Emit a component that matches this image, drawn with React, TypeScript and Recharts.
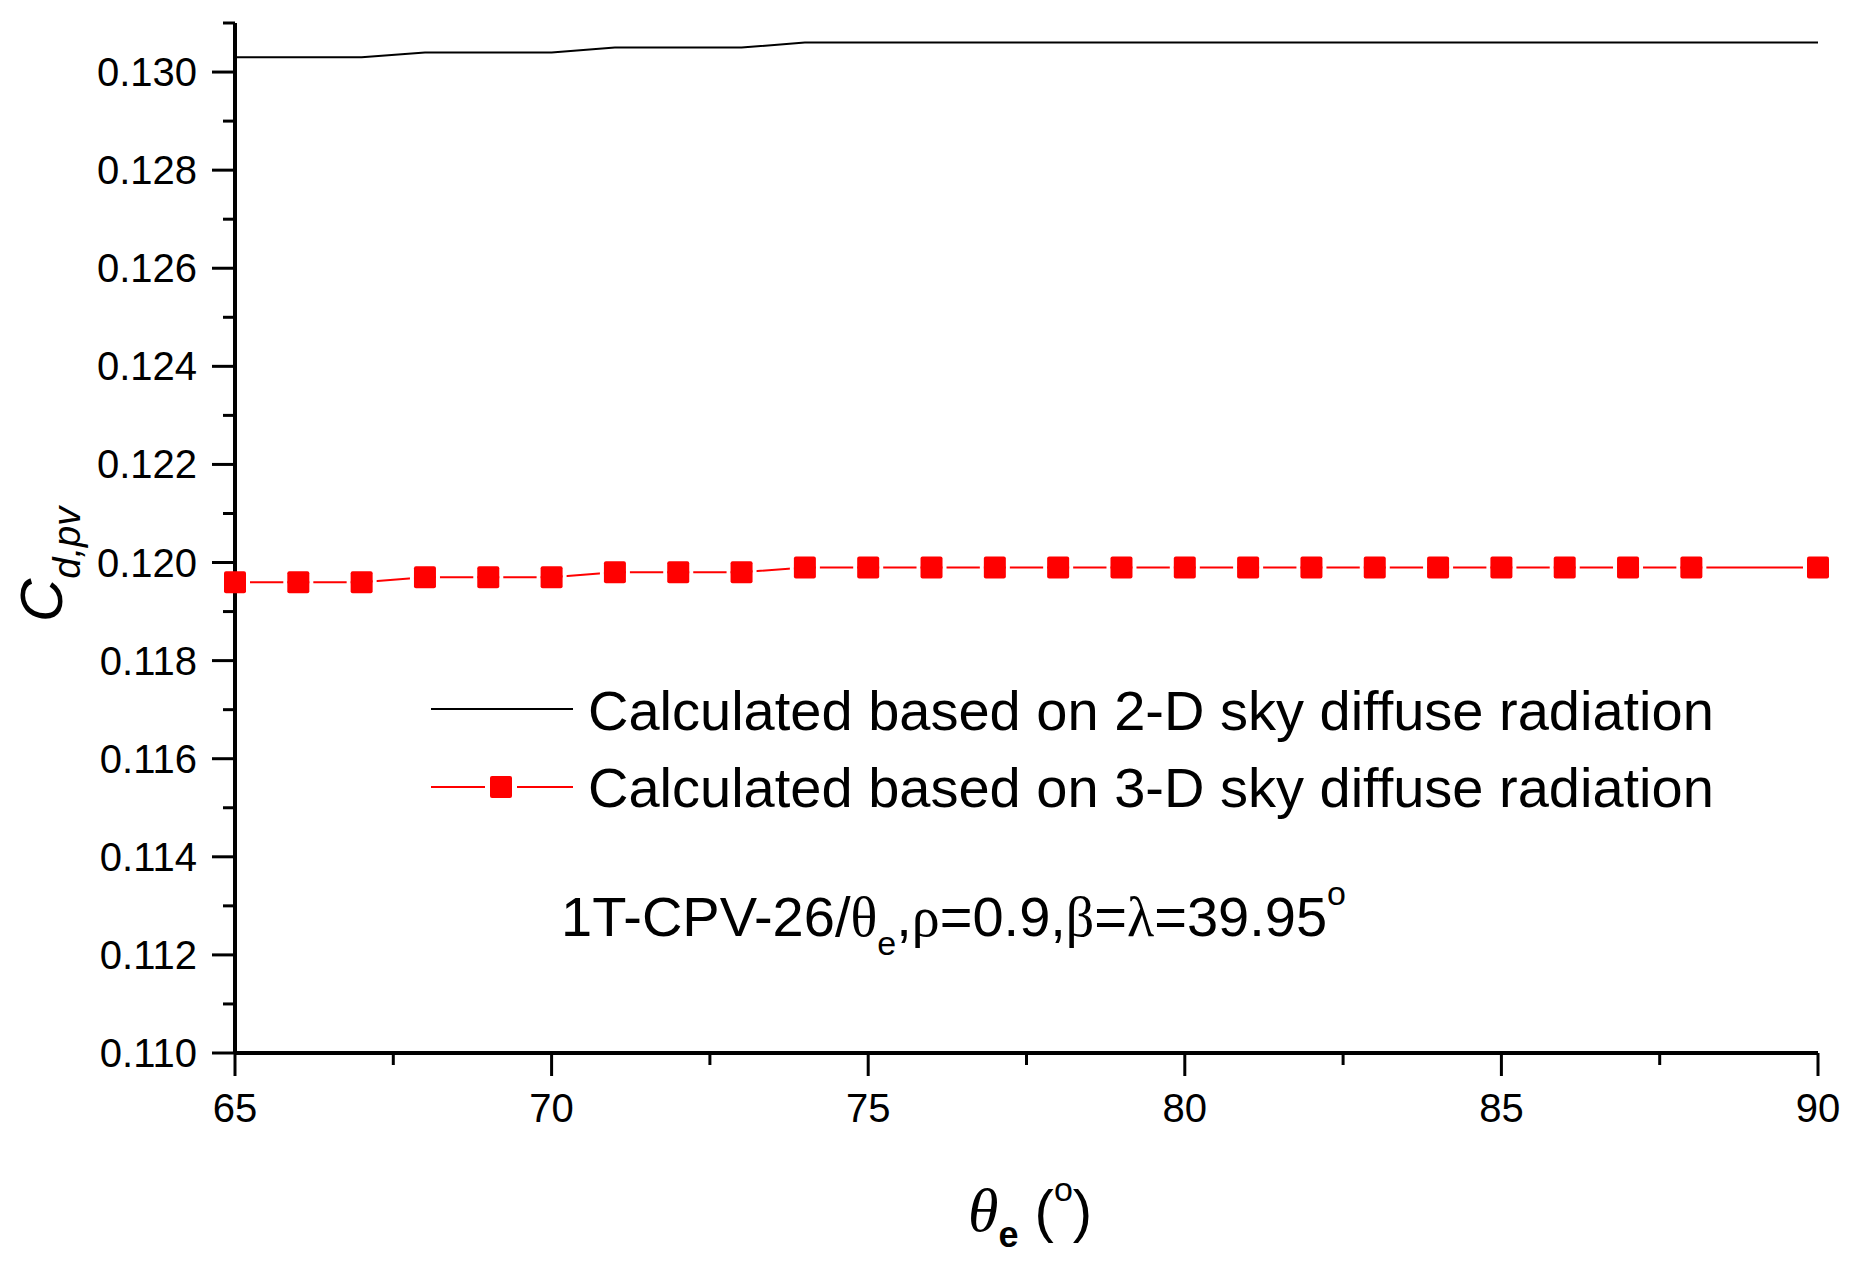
import React from 'react';
import { LineChart, Line, XAxis, YAxis, Legend } from 'recharts';

const thetaE = [65, 66, 67, 68, 69, 70, 71, 72, 73, 74, 75, 76, 77, 78, 79, 80, 81, 82, 83, 84, 85, 86, 87, 88, 89, 90];
const cd2D = [0.1303, 0.1303, 0.1303, 0.1304, 0.1304, 0.1304, 0.1305, 0.1305, 0.1305, 0.1306, 0.1306, 0.1306, 0.1306, 0.1306, 0.1306, 0.1306, 0.1306, 0.1306, 0.1306, 0.1306, 0.1306, 0.1306, 0.1306, 0.1306, 0.1306, 0.1306];
const cd3D = [0.1196, 0.1196, 0.1196, 0.1197, 0.1197, 0.1197, 0.1198, 0.1198, 0.1198, 0.1199, 0.1199, 0.1199, 0.1199, 0.1199, 0.1199, 0.1199, 0.1199, 0.1199, 0.1199, 0.1199, 0.1199, 0.1199, 0.1199, 0.1199, null, 0.1199];
const xTicks = [65, 67.5, 70, 72.5, 75, 77.5, 80, 82.5, 85, 87.5, 90];
const yTicks = [0.110, 0.111, 0.112, 0.113, 0.114, 0.115, 0.116, 0.117, 0.118, 0.119, 0.120, 0.121, 0.122, 0.123, 0.124, 0.125, 0.126, 0.127, 0.128, 0.129, 0.130, 0.131];
const seriesNames = ['Calculated based on 2-D sky diffuse radiation', 'Calculated based on 3-D sky diffuse radiation'];

const data = thetaE.map((t, i) => ({ t, a: cd2D[i], b: cd3D[i] }));

const SANS = '"Liberation Sans", Arial, Helvetica, sans-serif';
const SERIF = '"Liberation Serif", "Times New Roman", serif';
const RED = '#ff0000';
const MK = 22;
const GAP = 4;

const XTick = (props: any) => {
  const { x, y, payload } = props;
  const v = payload.value;
  const major = Math.abs(v % 5) < 1e-6;
  return (
    <g>
      <line x1={x} x2={x} y1={y} y2={y + (major ? 23 : 12)} stroke="#000" strokeWidth={3} />
      {major && (
        <text x={x} y={y + 69} textAnchor="middle" fontSize={40} fontFamily={SANS} fill="#000">
          {v}
        </text>
      )}
    </g>
  );
};

const YTick = (props: any) => {
  const { x, y, payload } = props;
  const v = payload.value;
  const major = Math.round(v * 1000) % 2 === 0;
  return (
    <g>
      <line x1={x} x2={x - (major ? 23 : 12)} y1={y} y2={y} stroke="#000" strokeWidth={3} />
      {major && (
        <text x={x - 38} y={y + 14} textAnchor="end" fontSize={40} fontFamily={SANS} fill="#000">
          {v.toFixed(3)}
        </text>
      )}
    </g>
  );
};

const SquareDot = (props: any) => {
  const { cx, cy, index, value } = props;
  if (cx == null || cy == null || value == null || Number.isNaN(cy)) return <g key={`d${index}`} />;
  const h = MK / 2;
  return (
    <g key={`d${index}`}>
      <rect x={cx - h - GAP} y={cy - 3} width={GAP} height={6} fill="#fff" />
      <rect x={cx + h} y={cy - 3} width={GAP} height={6} fill="#fff" />
      <rect x={cx - h} y={cy - h} width={MK} height={MK} rx={2} fill={RED} />
    </g>
  );
};

const YLabel = () => (
  <g transform="translate(62,622) rotate(-90)">
    <text x={0} y={0} fontFamily={SANS} fontStyle="italic" fontSize={60} fill="#000">
      C
      <tspan fontSize={38} dy={18}>d,pv</tspan>
    </text>
  </g>
);

const XLabel = () => (
  <text x={968} y={1231} fontFamily={SANS} fontSize={58} fill="#000">
    <tspan fontFamily={SERIF} fontStyle="italic" fontSize={62}>θ</tspan>
    <tspan fontWeight="bold" fontSize={36} dy={16}>e</tspan>
    <tspan dy={-16}> (</tspan>
    <tspan fontSize={34} dy={-30}>o</tspan>
    <tspan dy={30}>)</tspan>
  </text>
);

const LegendBox = () => (
  <svg width={1868} height={1264} style={{ position: 'absolute', left: 0, top: 0 }}>
    <line x1={431} x2={573} y1={709} y2={709} stroke="#000" strokeWidth={2} />
    <text x={588} y={730} fontSize={56} fontFamily={SANS} fill="#000">{seriesNames[0]}</text>
    <line x1={431} x2={485} y1={787} y2={787} stroke={RED} strokeWidth={2} />
    <line x1={517} x2={573} y1={787} y2={787} stroke={RED} strokeWidth={2} />
    <rect x={501 - MK / 2} y={787 - MK / 2} width={MK} height={MK} rx={2} fill={RED} />
    <text x={588} y={807} fontSize={56} fontFamily={SANS} fill="#000">{seriesNames[1]}</text>
    <text x={561} y={936} fontSize={56} fontFamily={SANS} fill="#000">
      1T-CPV-26/
      <tspan fontFamily={SERIF}>θ</tspan>
      <tspan fontSize={34} dy={19}>e</tspan>
      <tspan dy={-19}>,</tspan>
      <tspan fontFamily={SERIF}>ρ</tspan>
      =0.9,
      <tspan fontFamily={SERIF}>β</tspan>
      =
      <tspan fontFamily={SERIF}>λ</tspan>
      =39.95
      <tspan fontSize={34} dy={-31}>o</tspan>
    </text>
  </svg>
);

export default function App() {
  return (
    <div style={{ position: 'absolute', left: 0, top: 0, width: 1868, height: 1264, background: '#fff' }}>
      <LineChart width={1868} height={1264} data={data} margin={{ top: 23, right: 50, bottom: 0, left: 0 }}>
        <XAxis
          dataKey="t"
          type="number"
          domain={[65, 90]}
          ticks={xTicks}
          interval={0}
          tickSize={0}
          tickMargin={0}
          tickLine={false}
          tick={<XTick />}
          axisLine={{ stroke: '#000', strokeWidth: 4 }}
          height={211}
          label={<XLabel />}
        />
        <YAxis
          type="number"
          domain={[0.11, 0.131]}
          ticks={yTicks}
          interval={0}
          tickSize={0}
          tickMargin={0}
          tickLine={false}
          tick={<YTick />}
          axisLine={{ stroke: '#000', strokeWidth: 4 }}
          width={235}
          label={<YLabel />}
        />
        <Legend
          layout="vertical"
          align="center"
          verticalAlign="middle"
          content={() => <LegendBox />}
          wrapperStyle={{ position: 'absolute', left: 0, top: 0, width: 1868, height: 1264, pointerEvents: 'none' }}
        />
        <Line
          type="linear"
          dataKey="a"
          name={seriesNames[0]}
          stroke="#000"
          strokeWidth={2}
          dot={false}
          activeDot={false}
          isAnimationActive={false}
        />
        <Line
          type="linear"
          dataKey="b"
          name={seriesNames[1]}
          stroke={RED}
          strokeWidth={2}
          dot={SquareDot}
          activeDot={false}
          connectNulls
          isAnimationActive={false}
        />
      </LineChart>
    </div>
  );
}
